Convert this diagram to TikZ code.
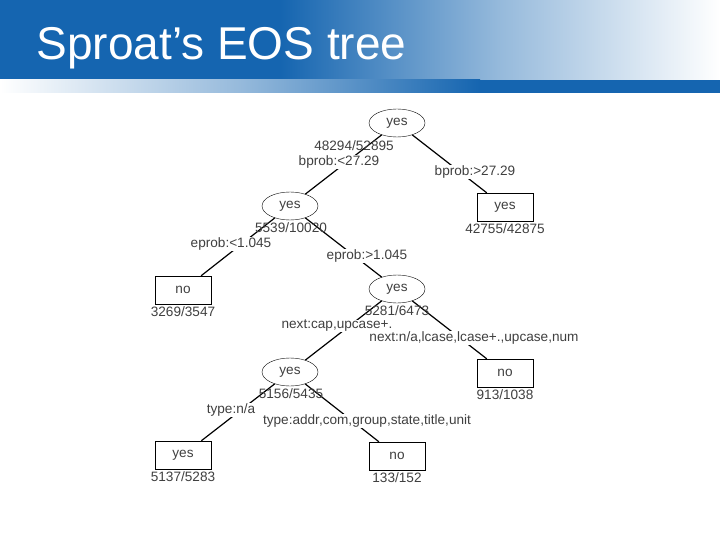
\documentclass[tikz,border=0pt]{standalone}
\usepackage{fontspec}
\setmainfont{Liberation Sans}
\usetikzlibrary{shapes.geometric}
\definecolor{hblue}{RGB}{21,101,176}
\begin{document}
\begin{tikzpicture}[x=1pt,y=-1pt,
  ell/.style={draw,ellipse,minimum width=56pt,minimum height=28pt,inner sep=0pt,font=\fontsize{13.6}{13.6}\selectfont,text=black!75},
  box/.style={draw,rectangle,minimum width=56pt,minimum height=28pt,inner sep=0pt,font=\fontsize{13.6}{13.6}\selectfont,text=black!75},
  cnt/.style={font=\fontsize{13.6}{13.6}\selectfont,text=black!75,inner sep=0.5pt},
  lab/.style={font=\fontsize{13.6}{13.6}\selectfont,text=black!75,fill=white,inner sep=0.5pt},
  edge/.style={line width=1.2pt}]
\useasboundingbox (0,0) rectangle (720,540);
\fill[white] (0,0) rectangle (720,540);
\fill[hblue] (0,0) rectangle (280,80);
\shade[left color=hblue,right color=hblue!45] (280,0) rectangle (500,80);
\shade[left color=hblue!45,right color=white] (500,0) rectangle (720,80);
\shade[left color=white,right color=hblue!45] (0,80) rectangle (240,93);
\shade[left color=hblue!45,right color=hblue] (240,80) rectangle (480,93);
\fill[hblue] (480,80) rectangle (720,93);
\node[anchor=west,text=white,font=\fontsize{46}{46}\selectfont] (title) at (33,48) {Sproat’s EOS tree};

\node[ell] (r) at (397,123) {yes};
\node[ell] (a) at (290,206) {yes};
\node[box] (b) at (505,207) {yes};
\node[box] (c) at (183,290) {no};
\node[ell] (d) at (397,289) {yes};
\node[ell] (e) at (290,372) {yes};
\node[box] (f) at (505,373) {no};
\node[box] (g) at (183,455) {yes};
\node[box] (h) at (397,456) {no};

\draw[edge] (r) -- (a);
\draw[edge] (r) -- (b);
\draw[edge] (a) -- (c);
\draw[edge] (a) -- (d);
\draw[edge] (d) -- (e);
\draw[edge] (d) -- (f);
\draw[edge] (e) -- (g);
\draw[edge] (e) -- (h);

\node[cnt] (rc) at (354,146) {48294/52895};
\node[cnt] (ac) at (291,228) {5539/10020};
\node[cnt] (bc) at (505,229) {42755/42875};
\node[cnt] (cc) at (183,312) {3269/3547};
\node[cnt] (dc) at (397,311) {5281/6473};
\node[cnt] (ec) at (291,394) {5156/5435};
\node[cnt] (fc) at (505,395) {913/1038};
\node[cnt] (gc) at (183,477) {5137/5283};
\node[cnt] (hc) at (397,478) {133/152};

\node[lab] (l1) at (339,162) {bprob:<27.29};
\node[lab] (l2) at (475,172) {bprob:>27.29};
\node[lab] (l3) at (231,244) {eprob:<1.045};
\node[lab] (l4) at (367,256) {eprob:>1.045};
\node[lab] (l5) at (337,326) {next:cap,upcase+.};
\node[lab] (l6) at (474,338) {next:n/a,lcase,lcase+.,upcase,num};
\node[lab] (l7) at (231,410) {type:n/a};
\node[lab] (l8) at (367,421) {type:addr,com,group,state,title,unit};
\end{tikzpicture}
\end{document}
